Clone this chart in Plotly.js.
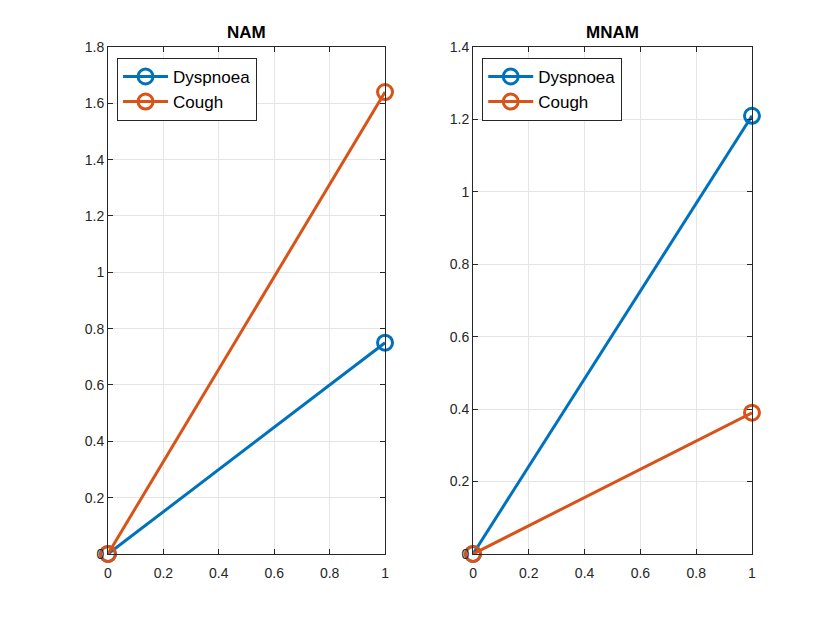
<!DOCTYPE html>
<html>
<head>
<meta charset="utf-8">
<script src="https://cdn.plot.ly/plotly-3.0.1.min.js"></script>
<style>
  html, body { margin: 0; padding: 0; background: #fff; }
  #chart { width: 830px; height: 623px; }
</style>
</head>
<body>
<div id="chart"></div>
<script>
// NAM / MNAM subplots

var xVals = [0, 1];
var seriesNames = ["Dyspnoea", "Cough"];
var namDyspnoea = [0, 0.75];
var namCough = [0, 1.64];
var mnamDyspnoea = [0, 1.21];
var mnamCough = [0, 0.39];
var namTicks = [0, 0.2, 0.4, 0.6, 0.8, 1, 1.2, 1.4, 1.6, 1.8];
var mnamTicks = [0, 0.2, 0.4, 0.6, 0.8, 1, 1.2, 1.4];
var xTicks = [0, 0.2, 0.4, 0.6, 0.8, 1];

var colors = ["#0072BD", "#D95319"];
var axisColor = "#262626";
var fontFam = "Liberation Sans, Arial, sans-serif";

function makeTrace(name, y, color, xa, ya, lg) {
  return {
    name: name,
    type: "scatter",
    mode: "lines+markers",
    x: xVals,
    y: y,
    xaxis: xa,
    yaxis: ya,
    legend: lg,
    cliponaxis: false,
    line: {color: color, width: 3},
    marker: {symbol: "circle-open", size: 15, color: color, line: {width: 3, color: color}},
    hoverinfo: "x+y+name"
  };
}

var traces = [
  makeTrace(seriesNames[0], namDyspnoea, colors[0], "x", "y", "legend"),
  makeTrace(seriesNames[1], namCough, colors[1], "x", "y", "legend"),
  makeTrace(seriesNames[0], mnamDyspnoea, colors[0], "x2", "y2", "legend2"),
  makeTrace(seriesNames[1], mnamCough, colors[1], "x2", "y2", "legend2")
];

function xAxis(domain, anchor) {
  return {
    domain: domain, anchor: anchor, range: [0, 1],
    tickvals: xTicks, ticktext: xTicks.map(String),
    ticks: "inside", ticklen: 5, tickcolor: axisColor, tickwidth: 1,
    ticklabelstandoff: 6,
    showline: true, linecolor: axisColor, linewidth: 1, mirror: "ticks",
    showgrid: true, gridcolor: "#e5e5e5", gridwidth: 1, zeroline: false,
    tickfont: {size: 14, color: axisColor, family: fontFam}
  };
}

function yAxis(domain, anchor, ticks) {
  return {
    domain: domain, anchor: anchor, range: [0, ticks[ticks.length - 1]],
    tickvals: ticks, ticktext: ticks.map(String),
    ticks: "inside", ticklen: 5, tickcolor: axisColor, tickwidth: 1,
    showline: true, linecolor: axisColor, linewidth: 1, mirror: "ticks",
    showgrid: true, gridcolor: "#e5e5e5", gridwidth: 1, zeroline: false,
    tickfont: {size: 14, color: axisColor, family: fontFam}
  };
}

function legendBox(x) {
  return {
    x: x, y: 0.907, xanchor: "left", yanchor: "top",
    bgcolor: "#ffffff", bordercolor: axisColor, borderwidth: 1,
    font: {size: 17, color: "#000000", family: fontFam},
    itemwidth: 45, tracegroupgap: 0
  };
}

var yDom = [0.1108, 0.9246];

var layout = {
  width: 830,
  height: 623,
  margin: {l: 0, r: 0, t: 0, b: 0},
  paper_bgcolor: "#ffffff",
  plot_bgcolor: "#ffffff",
  font: {family: fontFam, color: axisColor},
  xaxis: xAxis([0.1301, 0.4639], "y"),
  yaxis: yAxis(yDom, "x", namTicks),
  xaxis2: xAxis([0.5699, 0.906], "y2"),
  yaxis2: yAxis(yDom, "x2", mnamTicks),
  legend: legendBox(0.141),
  legend2: legendBox(0.581),
  annotations: [
    {text: "<b>NAM</b>", xref: "paper", yref: "paper", x: 0.297, y: 0.9246, yshift: 3,
     xanchor: "center", yanchor: "bottom", showarrow: false,
     font: {size: 17, color: "#000000", family: fontFam}},
    {text: "<b>MNAM</b>", xref: "paper", yref: "paper", x: 0.738, y: 0.9246, yshift: 3,
     xanchor: "center", yanchor: "bottom", showarrow: false,
     font: {size: 17, color: "#000000", family: fontFam}}
  ]
};

Plotly.newPlot("chart", traces, layout, {displayModeBar: false});
</script>
</body>
</html>
